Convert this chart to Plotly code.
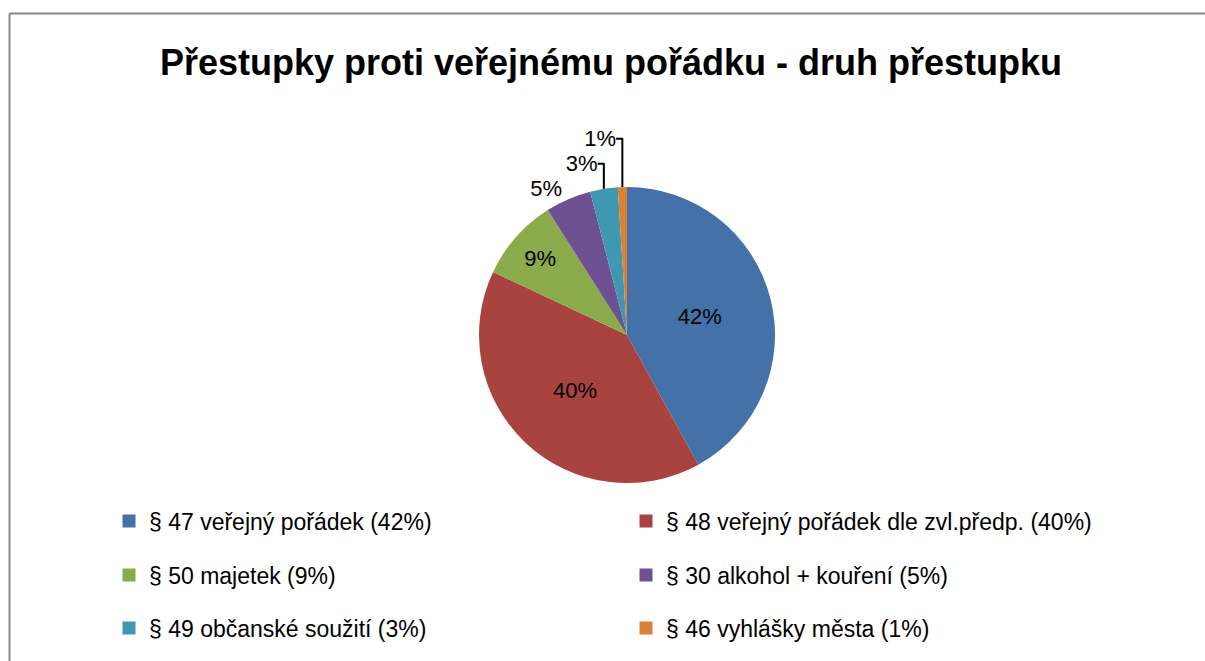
import plotly.graph_objects as go

title_text = "Přestupky proti veřejnému pořádku - druh přestupku"
categories = [
    "§ 47 veřejný pořádek (42%)",
    "§ 48 veřejný pořádek dle zvl.předp. (40%)",
    "§ 50 majetek (9%)",
    "§ 30 alkohol + kouření (5%)",
    "§ 49 občanské soužití (3%)",
    "§ 46 vyhlášky města (1%)",
]
values = [42, 40, 9, 5, 3, 1]
colors = ["#4471A7", "#A8433F", "#8BAA4A", "#6E5192", "#3F98B0", "#DA8138"]
text_pos = ["inside", "inside", "inside", "outside", "outside", "outside"]

FONT = "Liberation Sans"
W, H = 1205, 661


def px(x):
    return x / W


def py(y):
    return 1 - y / H


fig = go.Figure()

# pie (circle approximating the 3D ellipse region)
cx, cy, r = 627, 335, 148
fig.add_trace(go.Pie(
    labels=categories,
    values=values,
    sort=False,
    direction="clockwise",
    rotation=0,
    marker=dict(colors=colors, line=dict(width=0)),
    texttemplate="%{percent:.0%}",
    textposition=text_pos,
    insidetextorientation="horizontal",
    textfont=dict(family=FONT, size=22, color="#000000"),
    showlegend=False,
    hoverinfo="label+percent",
    domain=dict(x=[px(cx - r), px(cx + r)], y=[py(cy + r), py(cy - r)]),
))

# legend entries (2 columns x 3 rows)
legend_names = ["legend", "legend", "legend2", "legend2", "legend3", "legend3"]
for name, col, lg in zip(categories, colors, legend_names):
    fig.add_trace(go.Scatter(
        x=[None], y=[None], mode="markers", name=name,
        marker=dict(symbol="square", size=13, color=col),
        legend=lg, showlegend=True, hoverinfo="skip",
    ))

row_y = [521, 575, 628]
leg_common = dict(orientation="h", xanchor="left", yanchor="middle",
                  x=px(109), entrywidth=472, entrywidthmode="pixels",
                  font=dict(family=FONT, size=23, color="#000000"),
                  bgcolor="rgba(0,0,0,0)", itemwidth=30)

border = dict(color="#878787", width=2)
fig.update_layout(
    width=W, height=H,
    margin=dict(l=0, r=0, t=0, b=0),
    paper_bgcolor="white", plot_bgcolor="white",
    title=dict(text="<b>" + title_text + "</b>", x=px(611), xanchor="center",
               y=py(62), yanchor="middle",
               font=dict(family=FONT, size=36, color="#000000")),
    xaxis=dict(visible=False), yaxis=dict(visible=False),
    legend=dict(y=py(row_y[0]), **leg_common),
    legend2=dict(y=py(row_y[1]), **leg_common),
    legend3=dict(y=py(row_y[2]), **leg_common),
    shapes=[
        dict(type="line", xref="paper", yref="paper",
             x0=px(9.5), x1=1.05, y0=py(13.5), y1=py(13.5), line=border),
        dict(type="line", xref="paper", yref="paper",
             x0=px(9.5), x1=px(9.5), y0=py(13.5), y1=-0.05, line=border),
    ],
)

fig.write_html(
    "out.html",
    config={"displayModeBar": False},
    post_script="document.body.style.margin='0';document.body.style.overflow='hidden';",
)
